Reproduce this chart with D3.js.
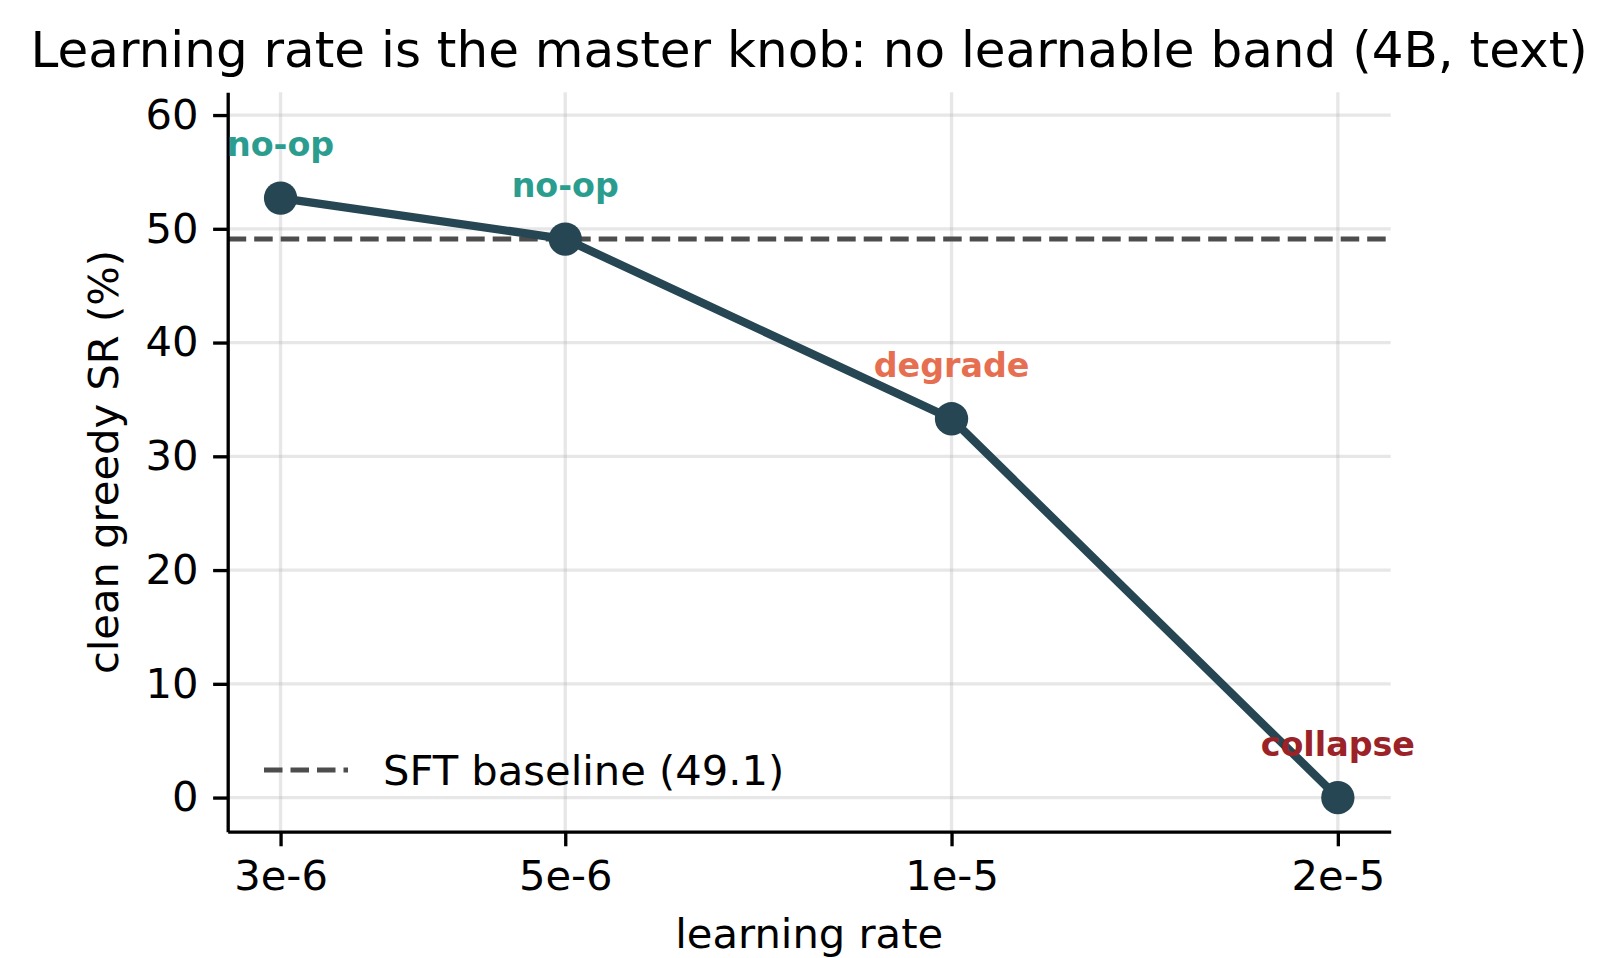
<!DOCTYPE html>
<html>
<head>
<meta charset="utf-8">
<script src="https://cdn.jsdelivr.net/npm/d3@7"></script>
<style>
  body { margin: 0; background: #fff; }
  text { font-family: "DejaVu Sans", sans-serif; }
</style>
</head>
<body>
<script>
// chart data
const lrs = [3e-6, 5e-6, 1e-5, 2e-5];
const lrLabels = ["3e-6", "5e-6", "1e-5", "2e-5"];
const srValues = [52.7, 49.1, 33.3, 0.0];
const verdicts = ["no-op", "no-op", "degrade", "collapse"];
const verdictColors = { "no-op": "#2a9d8f", "degrade": "#e76f51", "collapse": "#9b2226" };
const yTicks = [0, 10, 20, 30, 40, 50, 60];
const baseline = 49.1;

const width = 1617, height = 958;
const pt = 300 / 72; // matplotlib points at 300 dpi

const svg = d3.select("body").append("svg")
  .attr("width", width)
  .attr("height", height);

// plot area
const plot = { left: 227.7, right: 1390.7, top: 92.3, bottom: 831.7 };

// log x with 5% margins like matplotlib
const lo = Math.log10(d3.min(lrs)), hi = Math.log10(d3.max(lrs));
const m = 0.05 * (hi - lo);
const x = d3.scaleLog()
  .domain([Math.pow(10, lo - m), Math.pow(10, hi + m)])
  .range([plot.left, plot.right]);

const y = d3.scaleLinear()
  .domain([-3, 62])
  .range([plot.bottom, plot.top]);

// grid
const grid = svg.append("g")
  .attr("stroke", "#b0b0b0")
  .attr("stroke-opacity", 0.3)
  .attr("stroke-width", 0.8 * pt);

grid.selectAll("line.gy")
  .data(yTicks)
  .join("line")
  .attr("class", "gy")
  .attr("x1", plot.left).attr("x2", plot.right)
  .attr("y1", d => y(d)).attr("y2", d => y(d));

grid.selectAll("line.gx")
  .data(lrs)
  .join("line")
  .attr("class", "gx")
  .attr("y1", plot.top).attr("y2", plot.bottom)
  .attr("x1", d => x(d)).attr("x2", d => x(d));

// SFT baseline
const dash = `${3.7 * 1.2 * pt},${1.6 * 1.2 * pt}`;
svg.append("line")
  .attr("x1", plot.left).attr("x2", plot.right)
  .attr("y1", y(baseline)).attr("y2", y(baseline))
  .attr("stroke", "#4d4d4d")
  .attr("stroke-width", 1.2 * pt)
  .attr("stroke-dasharray", dash);

// axes
const fontPx = 10 * pt;
const xAxis = svg.append("g")
  .attr("transform", `translate(0,${plot.bottom})`)
  .call(d3.axisBottom(x)
    .tickValues(lrs)
    .tickFormat((d, i) => lrLabels[i])
    .tickSize(3.5 * pt)
    .tickPadding(3.5 * pt)
    .tickSizeOuter(0));

const yAxis = svg.append("g")
  .attr("transform", `translate(${plot.left},0)`)
  .call(d3.axisLeft(y)
    .tickValues(yTicks)
    .tickSize(3.5 * pt)
    .tickPadding(3.5 * pt)
    .tickSizeOuter(0));

[xAxis, yAxis].forEach(g => {
  g.selectAll("text")
    .style("font-family", "DejaVu Sans")
    .style("font-size", fontPx + "px")
    .attr("fill", "#000");
  g.selectAll("line").attr("stroke", "#000").attr("stroke-width", 0.8 * pt);
  g.select(".domain").attr("stroke", "#000").attr("stroke-width", 0.8 * pt);
});

// series line + markers
const pts = lrs.map((lr, i) => ({ lr, sr: srValues[i], verdict: verdicts[i] }));

svg.append("path")
  .datum(pts)
  .attr("fill", "none")
  .attr("stroke", "#264653")
  .attr("stroke-width", 2 * pt)
  .attr("stroke-linejoin", "round")
  .attr("d", d3.line().x(d => x(d.lr)).y(d => y(d.sr)));

svg.selectAll("circle.pt")
  .data(pts)
  .join("circle")
  .attr("class", "pt")
  .attr("cx", d => x(d.lr))
  .attr("cy", d => y(d.sr))
  .attr("r", 4 * pt)
  .attr("fill", "#264653");

// verdict labels
svg.selectAll("text.verdict")
  .data(pts)
  .join("text")
  .attr("class", "verdict")
  .attr("x", d => x(d.lr))
  .attr("y", d => y(d.sr) - 42)
  .attr("text-anchor", "middle")
  .style("font-size", 8 * pt + "px")
  .style("font-weight", "bold")
  .attr("fill", d => verdictColors[d.verdict])
  .text(d => d.verdict);

// legend (lower left, no frame)
const leg = svg.append("g");
leg.append("line")
  .attr("x1", 264).attr("x2", 348)
  .attr("y1", 770).attr("y2", 770)
  .attr("stroke", "#4d4d4d")
  .attr("stroke-width", 1.2 * pt)
  .attr("stroke-dasharray", dash);
leg.append("text")
  .attr("x", 383).attr("y", 785)
  .style("font-size", fontPx + "px")
  .text(`SFT baseline (${baseline})`);

// axis labels + title
svg.append("text")
  .attr("x", (plot.left + plot.right) / 2).attr("y", 948)
  .attr("text-anchor", "middle")
  .style("font-size", fontPx + "px")
  .text("learning rate");

svg.append("text")
  .attr("transform", `translate(118,${(plot.top + plot.bottom) / 2}) rotate(-90)`)
  .attr("text-anchor", "middle")
  .style("font-size", fontPx + "px")
  .text("clean greedy SR (%)");

svg.append("text")
  .attr("x", (plot.left + plot.right) / 2).attr("y", 67)
  .attr("text-anchor", "middle")
  .style("font-size", 12 * pt + "px")
  .text("Learning rate is the master knob: no learnable band (4B, text)");
</script>
</body>
</html>
